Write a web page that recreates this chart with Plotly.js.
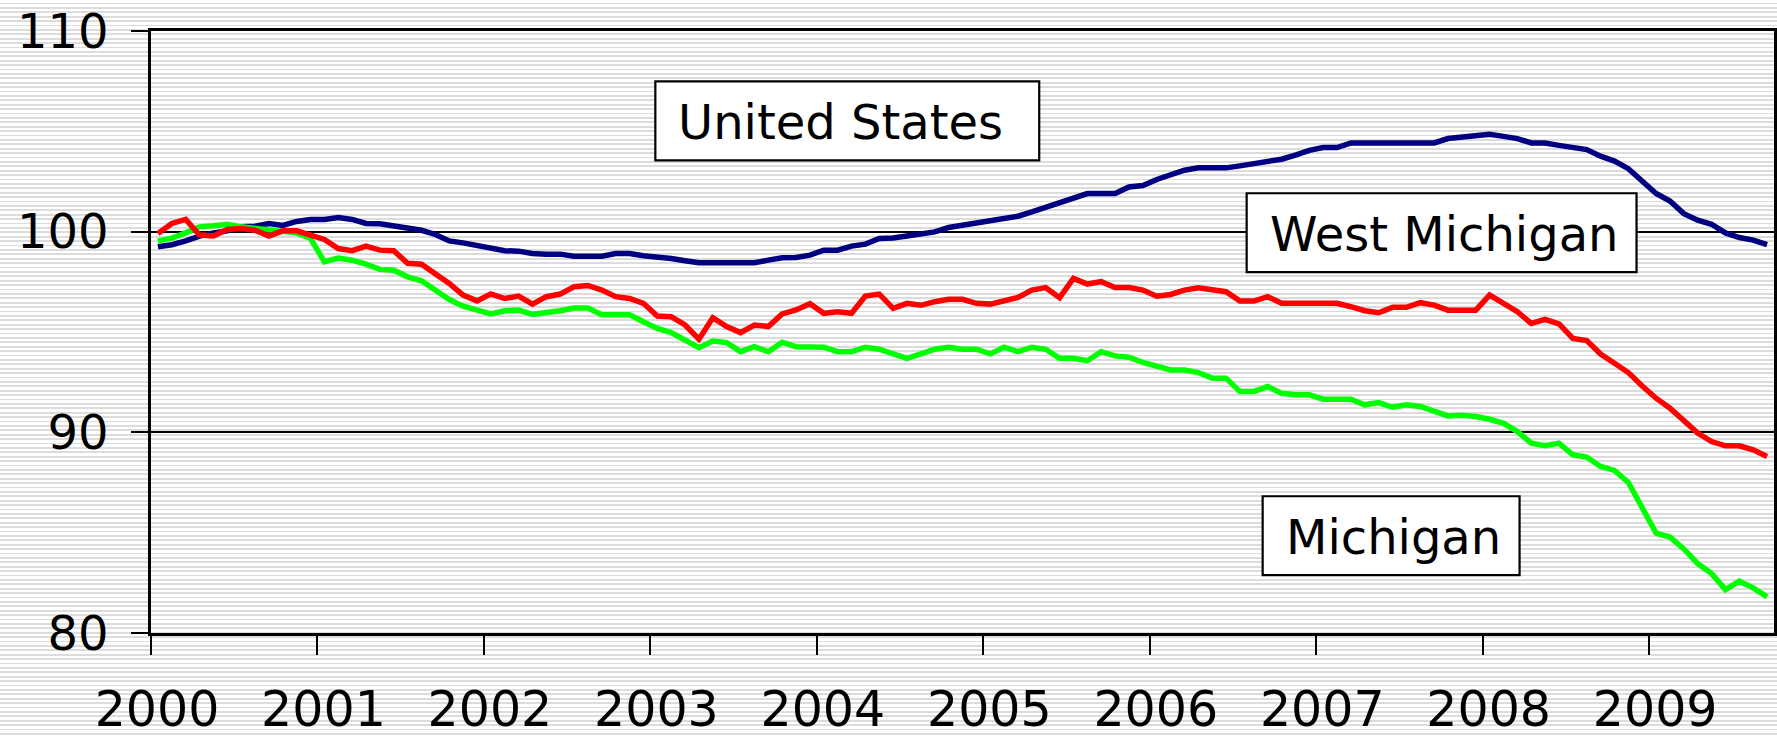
<!DOCTYPE html>
<html>
<head>
<meta charset="utf-8">
<script src="https://cdn.plot.ly/plotly-3.0.1.min.js"></script>
<style>
  html, body { margin: 0; padding: 0; }
  body {
    width: 1777px; height: 737px; overflow: hidden;
    background: repeating-linear-gradient(to bottom, #ffffff 0px, #ffffff 2.6px, #dcdcdc 2.6px, #dcdcdc 4.4px);
  }
  #chart { width: 1777px; height: 737px; }
</style>
</head>
<body>
<div id="chart"></div>
<script>
// ---- Data (monthly employment index, Jan 2000 = ~100), Jan 2000 .. Sep 2009 ----
const yearLabels = ['2000','2001','2002','2003','2004','2005','2006','2007','2008','2009'];

const usIndex = [
  99.25, 99.35, 99.54, 99.78, 99.94, 100.04, 100.24, 100.27, 100.41, 100.31, 100.51, 100.61,
  100.61, 100.70, 100.61, 100.41, 100.39, 100.29, 100.19, 100.07, 99.86, 99.54, 99.44, 99.30,
  99.16, 99.05, 99.03, 98.91, 98.88, 98.88, 98.78, 98.78, 98.78, 98.91, 98.91, 98.80,
  98.75, 98.66, 98.55, 98.45, 98.45, 98.45, 98.45, 98.45, 98.58, 98.70, 98.71, 98.83,
  99.08, 99.08, 99.28, 99.38, 99.66, 99.68, 99.78, 99.88, 99.99, 100.21, 100.31, 100.41,
  100.52, 100.62, 100.77, 100.99, 101.20, 101.45, 101.68, 101.90, 101.90, 101.90, 102.23, 102.30,
  102.60, 102.81, 103.06, 103.18, 103.18, 103.18, 103.28, 103.39, 103.51, 103.61, 103.81, 104.05,
  104.19, 104.19, 104.42, 104.42, 104.42, 104.42, 104.42, 104.42, 104.42, 104.64, 104.70, 104.75,
  104.85, 104.75, 104.64, 104.42, 104.42, 104.30, 104.19, 104.09, 103.76, 103.52, 103.14, 102.56,
  101.90, 101.53, 100.90, 100.57, 100.37, 99.94, 99.71, 99.58, 99.36
];

const westMichiganIndex = [
  99.91, 100.41, 100.61, 99.83, 99.79, 100.11, 100.16, 100.07, 99.78, 100.04, 100.04, 99.83,
  99.61, 99.16, 99.05, 99.28, 99.08, 99.05, 98.42, 98.38, 97.89, 97.42, 96.84, 96.55,
  96.90, 96.67, 96.79, 96.39, 96.76, 96.89, 97.26, 97.32, 97.09, 96.76, 96.67, 96.43,
  95.80, 95.76, 95.35, 94.64, 95.71, 95.27, 94.97, 95.35, 95.27, 95.90, 96.10, 96.41,
  95.93, 96.01, 95.93, 96.79, 96.89, 96.18, 96.43, 96.33, 96.51, 96.63, 96.63, 96.43,
  96.39, 96.59, 96.72, 97.09, 97.21, 96.71, 97.67, 97.39, 97.51, 97.22, 97.22, 97.09,
  96.78, 96.87, 97.09, 97.20, 97.12, 97.01, 96.54, 96.54, 96.76, 96.43, 96.43, 96.43,
  96.43, 96.43, 96.26, 96.06, 95.96, 96.23, 96.23, 96.46, 96.34, 96.09, 96.09, 96.09,
  96.84, 96.46, 96.01, 95.43, 95.63, 95.40, 94.68, 94.57, 93.90, 93.44, 92.98, 92.31,
  91.70, 91.20, 90.59, 89.96, 89.54, 89.33, 89.33, 89.13, 88.80
];

const michiganIndex = [
  99.54, 99.68, 99.94, 100.24, 100.29, 100.37, 100.24, 100.16, 100.07, 100.04, 99.94, 99.66,
  98.50, 98.68, 98.58, 98.38, 98.12, 98.08, 97.75, 97.55, 97.09, 96.62, 96.29, 96.06,
  95.90, 96.06, 96.09, 95.88, 95.96, 96.06, 96.19, 96.19, 95.86, 95.86, 95.86, 95.51,
  95.18, 94.97, 94.63, 94.22, 94.55, 94.47, 94.02, 94.27, 94.02, 94.49, 94.27, 94.25,
  94.24, 94.02, 94.02, 94.24, 94.14, 93.91, 93.69, 93.91, 94.14, 94.24, 94.14, 94.14,
  93.91, 94.24, 94.02, 94.24, 94.14, 93.69, 93.69, 93.57, 94.02, 93.81, 93.74, 93.48,
  93.28, 93.11, 93.11, 92.98, 92.70, 92.70, 92.03, 92.03, 92.28, 91.95, 91.87, 91.87,
  91.65, 91.65, 91.65, 91.37, 91.48, 91.25, 91.37, 91.29, 91.04, 90.82, 90.85, 90.79,
  90.65, 90.45, 90.04, 89.46, 89.33, 89.46, 88.88, 88.77, 88.30, 88.10, 87.50, 86.23,
  84.98, 84.78, 84.19, 83.46, 82.96, 82.16, 82.58, 82.25, 81.80
];

const seriesLabels = ['United States', 'West Michigan', 'Michigan'];
const seriesColors = ['#000080', '#ff0000', '#00ff00'];

// month categories (Jan 2000 ...)
const months = [];
yearLabels.forEach(y => { for (let m = 1; m <= 12; m++) months.push(y + '-' + String(m).padStart(2, '0')); });
const monthIdx = usIndex.map((_, i) => i);

function mk(values, name, color) {
  return {
    x: monthIdx, y: values, text: months.slice(0, values.length),
    type: 'scatter', mode: 'lines', name: name,
    line: { color: color, width: 5.5 },
    hovertemplate: '%{text}: %{y}<extra>' + name + '</extra>'
  };
}

const traces = [
  mk(usIndex, seriesLabels[0], seriesColors[0]),
  mk(michiganIndex, seriesLabels[2], seriesColors[2]),
  mk(westMichiganIndex, seriesLabels[1], seriesColors[1])
];

const FONT = 'DejaVu Sans, Verdana, sans-serif';
const plotL = 150.5, plotR = 3, plotT = 30.5, plotB = 103.5;
const W = 1777, H = 737;
const pw = W - plotL - plotR, ph = H - plotT - plotB;
const px2x = p => (p - plotL) / pw;
const px2y = p => (H - plotB - p) / ph;
// label boxes in page pixels (left, top, width, height)
const boxes = [
  { text: seriesLabels[0], l: 655, t: 81, w: 384, h: 79 },
  { text: seriesLabels[1], l: 1246.5, t: 193, w: 390, h: 79 },
  { text: seriesLabels[2], l: 1262.5, t: 496.5, w: 257, h: 79 }
];
const textInset = 21;

const shapes = boxes.map(b => ({
  type: 'rect', xref: 'paper', yref: 'paper', layer: 'above',
  x0: px2x(b.l), x1: px2x(b.l + b.w), y0: px2y(b.t + b.h), y1: px2y(b.t),
  fillcolor: '#ffffff', line: { color: '#000000', width: 2.2 }
}));

const annotations = boxes.map(b => ({
  xref: 'paper', yref: 'paper',
  x: px2x(b.l + textInset), y: px2y(b.t + b.h / 2 + 1),
  xanchor: 'left', yanchor: 'middle',
  text: b.text, showarrow: false, align: 'left',
  font: { family: FONT, size: 48, color: '#000000' }
}));

const layout = {
  width: W, height: H,
  margin: { l: plotL, r: plotR, t: plotT, b: plotB, pad: 0 },
  paper_bgcolor: 'rgba(0,0,0,0)',
  plot_bgcolor: 'rgba(0,0,0,0)',
  showlegend: false,
  xaxis: {
    type: 'linear',
    range: [-0.5, months.length - 3.5],
    tickmode: 'array',
    tickvals: yearLabels.map((_, k) => k * 12 - 0.5),
    ticktext: yearLabels,
    ticks: 'outside', ticklen: 19, tickwidth: 2, tickcolor: '#000',
    ticklabelstandoff: 12,
    ticklabelshift: 6,
    showline: true, linewidth: 2.5, linecolor: '#000', mirror: true,
    showgrid: false, zeroline: false,
    tickfont: { family: FONT, size: 49, color: '#000' }
  },
  yaxis: {
    range: [80, 110], tick0: 80, dtick: 10,
    ticks: 'outside', ticklen: 17, tickwidth: 2, tickcolor: '#000',
    ticklabelstandoff: 13,
    showline: true, linewidth: 2.5, linecolor: '#000', mirror: true,
    showgrid: true, gridcolor: '#000', gridwidth: 2, zeroline: false,
    tickfont: { family: FONT, size: 48, color: '#000' }
  },
  shapes: shapes,
  annotations: annotations
};

Plotly.newPlot('chart', traces, layout, { displayModeBar: false, responsive: false });
</script>
</body>
</html>
